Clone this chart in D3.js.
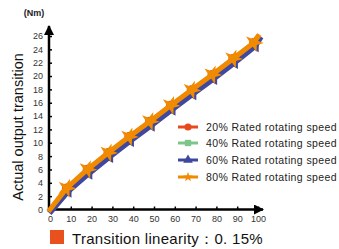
<!DOCTYPE html>
<html>
<head>
<meta charset="utf-8">
<script src="https://cdn.jsdelivr.net/npm/d3@7"></script>
<style>
  body { margin: 0; background: #fff; }
  svg { display: block; font-family: "Liberation Sans", Arial, sans-serif; }
</style>
</head>
<body>
<div id="chart"></div>
<script>
// Data
const speedX = [0, 8, 18, 28, 38, 48, 58, 68, 78, 88, 98, 100];
const rated20 = [0, 3.2, 6.0, 8.5, 10.9, 13.2, 15.6, 17.9, 20.2, 22.6, 25.0, 25.9];
const rated40 = [0, 3.1, 5.9, 8.4, 10.8, 13.1, 15.5, 17.8, 20.1, 22.5, 24.9, 25.8];
const rated60 = [0, 2.9, 5.6, 8.1, 10.5, 12.8, 15.2, 17.5, 19.8, 22.2, 24.7, 25.7];
const rated80 = [0, 3.2, 6.0, 8.5, 10.9, 13.2, 15.6, 17.9, 20.2, 22.6, 25.0, 25.9];
const seriesNames = ["20%", "40%", "60%", "80%"];
const yTicks = d3.range(0, 27, 2);
const xTicks = d3.range(0, 101, 10);

const width = 339, height = 249;
const colors = ["#e8481e", "#7cc68a", "#3f479e", "#f08a00"];
const symbols = [d3.symbolCircle, d3.symbolSquare, d3.symbolTriangle, d3.symbolStar];

const svg = d3.select("#chart").append("svg")
    .attr("width", width)
    .attr("height", height);

const x = d3.scaleLinear().domain([0, 100]).range([50, 258]);
const y = d3.scaleLinear().domain([0, 26]).range([209.5, 36]);

// axes
const xAxis = svg.append("g")
    .attr("transform", `translate(0,${y(0)})`)
    .call(d3.axisBottom(x).tickValues(xTicks).tickSize(-3).tickPadding(6).tickSizeOuter(0))
    .call(g => g.select(".domain").remove());
xAxis.selectAll("line").attr("stroke", "#000").attr("stroke-width", 1.5);
xAxis.selectAll("text").attr("font-size", 9).attr("fill", "#333").attr("font-family", "Liberation Sans, Arial, sans-serif");

const yAxis = svg.append("g")
    .attr("transform", `translate(${x(0) - 1},0)`)
    .call(d3.axisLeft(y).tickValues(yTicks).tickSize(-3).tickPadding(6).tickSizeOuter(0))
    .call(g => g.select(".domain").remove());
yAxis.selectAll("line").attr("stroke", "#000").attr("stroke-width", 1.5);
yAxis.selectAll("text").attr("font-size", 9).attr("fill", "#333").attr("font-family", "Liberation Sans, Arial, sans-serif");

// axis lines with arrows
svg.append("defs").append("marker")
    .attr("id", "arrow")
    .attr("viewBox", "0 0 10 10")
    .attr("refX", 9).attr("refY", 5)
    .attr("markerWidth", 4).attr("markerHeight", 4)
    .attr("orient", "auto")
  .append("path").attr("d", "M0,0L10,5L0,10z").attr("fill", "#000");

svg.append("line")
    .attr("x1", x(0) - 1).attr("y1", y(0) + 1)
    .attr("x2", x(0) - 1).attr("y2", 26)
    .attr("stroke", "#000").attr("stroke-width", 2.5)
    .attr("marker-end", "url(#arrow)");
svg.append("line")
    .attr("x1", x(0) - 2).attr("y1", y(0))
    .attr("x2", 263).attr("y2", y(0))
    .attr("stroke", "#000").attr("stroke-width", 2.5)
    .attr("marker-end", "url(#arrow)");

// series
const allSeries = [rated20, rated40, rated60, rated80];
const line = d3.line().x((d, i) => x(speedX[i])).y(d => y(d));
const widths = [4, 4, 6, 5];
const offsets = [[0, 0], [0.5, 0.5], [1.2, 1.2], [0, 0]];

allSeries.forEach((vals, k) => {
  const g = svg.append("g").attr("transform", `translate(${offsets[k][0]},${offsets[k][1]})`);
  g.append("path")
      .datum(vals)
      .attr("d", line)
      .attr("fill", "none")
      .attr("stroke", colors[k])
      .attr("stroke-width", widths[k])
      .attr("stroke-linecap", "square");
  g.selectAll("path.pt")
    .data(vals.slice(1, -1))
    .join("path")
      .attr("class", "pt")
      .attr("transform", (d, i) => `translate(${x(speedX[i + 1])},${y(d)}) rotate(${k === 2 ? 30 : k === 3 ? 20 : 0})`)
      .attr("d", d3.symbol(symbols[k], k === 3 ? 110 : 70))
      .attr("fill", colors[k]);
});

// legend
const legend = svg.append("g");
const rowY = [127, 143, 160, 177];
seriesNames.forEach((name, k) => {
  const r = legend.append("g").attr("transform", `translate(0,${rowY[k]})`);
  r.append("line")
      .attr("x1", 178).attr("x2", 198)
      .attr("stroke", colors[k]).attr("stroke-width", 3);
  r.append("path")
      .attr("transform", `translate(188,0)`)
      .attr("d", d3.symbol(symbols[k], k === 3 ? 30 : 40))
      .attr("fill", colors[k]);
  r.append("text")
      .attr("x", 206)
      .attr("dy", "0.35em")
      .attr("font-size", 10.5)
      .attr("letter-spacing", 0.4)
      .attr("fill", "#222")
      .text(name + " Rated rotating speed");
});

// unit label
svg.append("text")
    .attr("x", 34).attr("y", 16)
    .attr("text-anchor", "middle")
    .attr("font-size", 9)
    .attr("font-weight", "bold")
    .attr("fill", "#222")
    .text("(Nm)");

// y title
svg.append("text")
    .attr("transform", "translate(23,127) rotate(-90)")
    .attr("text-anchor", "middle")
    .attr("font-size", 14.5)
    .attr("fill", "#111")
    .text("Actual output transition");

// bottom note
svg.append("rect")
    .attr("x", 50).attr("y", 230)
    .attr("width", 14).attr("height", 14)
    .attr("fill", "#e8501e");
svg.append("text")
    .attr("x", 72).attr("y", 244)
    .attr("font-size", 15)
    .attr("letter-spacing", 0.3)
    .attr("fill", "#111")
    .text("Transition linearity：0. 15%");
</script>
</body>
</html>
